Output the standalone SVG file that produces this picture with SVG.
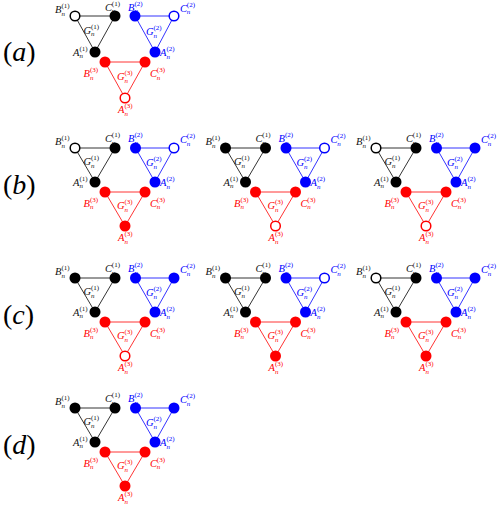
<svg xmlns="http://www.w3.org/2000/svg" width="498" height="505" viewBox="0 0 498 505">
<style>
.edges polygon{fill:none;stroke-width:0.8}
.ek{stroke:#000}.eb{stroke:#00f}.er{stroke:#f00}
.fk{fill:#000}.fb{fill:#00f}.fr{fill:#f00}
.ok{fill:#fff;stroke:#000;stroke-width:1.5}.ob{fill:#fff;stroke:#00f;stroke-width:1.5}.or{fill:#fff;stroke:#f00;stroke-width:1.5}
.t{font-family:"Liberation Serif","DejaVu Serif",serif;font-style:italic;font-size:10.5px}
.s{font-size:7px;font-style:normal}
.s2{font-size:7px}
.tk{fill:#111}.tb{fill:#00f}.tr{fill:#f00}
.pl{font-family:"Liberation Serif","DejaVu Serif",serif;font-size:28px;fill:#000}
.pl tspan{font-style:italic}
</style>
<g id="panel-labels">
<text class="pl" x="3" y="61">(<tspan>a</tspan>)</text>
<text class="pl" x="3" y="194">(<tspan>b</tspan>)</text>
<text class="pl" x="3" y="324">(<tspan>c</tspan>)</text>
<text class="pl" x="3" y="454">(<tspan>d</tspan>)</text>
</g>

<!-- (a) -->
<g id="da" transform="translate(75,16)">
<g id="da-edges" class="edges"><polygon class="ek" points="0,0 40,0 20,36"/><polygon class="eb" points="60,0 99,0 80,36"/><polygon class="er" points="30,46 70,46 50,82"/></g>
<g id="da-G1"><text class="t tk" x="8.5" y="17.5">G<tspan class="s2" x="16" dy="2.5">n</tspan><tspan class="s" x="16" dy="-7.5">(1)</tspan></text></g>
<g id="da-G2"><text class="t tb" x="71" y="19">G<tspan class="s2" x="78.5" dy="2.5">n</tspan><tspan class="s" x="78.5" dy="-7.5">(2)</tspan></text></g>
<g id="da-G3"><text class="t tr" x="42" y="64">G<tspan class="s2" x="49.5" dy="2.5">n</tspan><tspan class="s" x="49.5" dy="-7.5">(3)</tspan></text></g>
<g id="da-B1"><circle class="ok" cx="0" cy="0" r="4.8"/><text class="t tk" x="-20" y="-3">B<tspan class="s2" x="-13.6" dy="2.5">n</tspan><tspan class="s" x="-13.6" dy="-7.5">(1)</tspan></text></g>
<g id="da-C1"><circle class="fk" cx="40" cy="0" r="5.5"/><text class="t tk" x="30" y="-5.5">C<tspan class="s2" x="36.8" dy="2.5">n</tspan><tspan class="s" x="36.8" dy="-7.5">(1)</tspan></text></g>
<g id="da-A1"><circle class="fk" cx="20" cy="36" r="5.5"/><text class="t tk" x="-2" y="39.5">A<tspan class="s2" x="4.4" dy="2.5">n</tspan><tspan class="s" x="4.4" dy="-7.5">(1)</tspan></text></g>
<g id="da-B2"><circle class="fb" cx="60" cy="0" r="5.5"/><text class="t tb" x="53" y="-5.5">B<tspan class="s2" x="59.4" dy="2.5">n</tspan><tspan class="s" x="59.4" dy="-7.5">(2)</tspan></text></g>
<g id="da-C2"><circle class="ob" cx="99" cy="0" r="4.8"/><text class="t tb" x="105" y="-4.5">C<tspan class="s2" x="111.8" dy="2.5">n</tspan><tspan class="s" x="111.8" dy="-7.5">(2)</tspan></text></g>
<g id="da-A2"><circle class="fb" cx="80" cy="36" r="5.5"/><text class="t tb" x="85" y="40">A<tspan class="s2" x="91.4" dy="2.5">n</tspan><tspan class="s" x="91.4" dy="-7.5">(2)</tspan></text></g>
<g id="da-B3"><circle class="fr" cx="30" cy="46" r="5.5"/><text class="t tr" x="8.5" y="61">B<tspan class="s2" x="14.9" dy="2.5">n</tspan><tspan class="s" x="14.9" dy="-7.5">(3)</tspan></text></g>
<g id="da-C3"><circle class="fr" cx="70" cy="46" r="5.5"/><text class="t tr" x="75" y="61">C<tspan class="s2" x="81.8" dy="2.5">n</tspan><tspan class="s" x="81.8" dy="-7.5">(3)</tspan></text></g>
<g id="da-A3"><circle class="or" cx="50" cy="82" r="4.8"/><text class="t tr" x="43" y="97">A<tspan class="s2" x="49.4" dy="2.5">n</tspan><tspan class="s" x="49.4" dy="-7.5">(3)</tspan></text></g>
</g>

<!-- (b) 1 -->
<g id="db1" transform="translate(75,148)">
<g id="db1-edges" class="edges"><polygon class="ek" points="0,0 40,0 20,34"/><polygon class="eb" points="60.5,0 99,0 80,34"/><polygon class="er" points="30,44 70,44 50,78"/></g>
<g id="db1-G1"><text class="t tk" x="8.5" y="17">G<tspan class="s2" x="16" dy="2.5">n</tspan><tspan class="s" x="16" dy="-7.5">(1)</tspan></text></g>
<g id="db1-G2"><text class="t tb" x="71" y="18">G<tspan class="s2" x="78.5" dy="2.5">n</tspan><tspan class="s" x="78.5" dy="-7.5">(2)</tspan></text></g>
<g id="db1-G3"><text class="t tr" x="42" y="61">G<tspan class="s2" x="49.5" dy="2.5">n</tspan><tspan class="s" x="49.5" dy="-7.5">(3)</tspan></text></g>
<g id="db1-B1"><circle class="ok" cx="0" cy="0" r="4.8"/><text class="t tk" x="-20" y="-3">B<tspan class="s2" x="-13.6" dy="2.5">n</tspan><tspan class="s" x="-13.6" dy="-7.5">(1)</tspan></text></g>
<g id="db1-C1"><circle class="fk" cx="40" cy="0" r="5.5"/><text class="t tk" x="30" y="-6">C<tspan class="s2" x="36.8" dy="2.5">n</tspan><tspan class="s" x="36.8" dy="-7.5">(1)</tspan></text></g>
<g id="db1-A1"><circle class="fk" cx="20" cy="34" r="5.5"/><text class="t tk" x="-2" y="37.5">A<tspan class="s2" x="4.4" dy="2.5">n</tspan><tspan class="s" x="4.4" dy="-7.5">(1)</tspan></text></g>
<g id="db1-B2"><circle class="fb" cx="60.5" cy="0" r="5.5"/><text class="t tb" x="53" y="-6">B<tspan class="s2" x="59.4" dy="2.5">n</tspan><tspan class="s" x="59.4" dy="-7.5">(2)</tspan></text></g>
<g id="db1-C2"><circle class="ob" cx="99" cy="0" r="4.8"/><text class="t tb" x="105" y="-5">C<tspan class="s2" x="111.8" dy="2.5">n</tspan><tspan class="s" x="111.8" dy="-7.5">(2)</tspan></text></g>
<g id="db1-A2"><circle class="fb" cx="80" cy="34" r="5.5"/><text class="t tb" x="85" y="38">A<tspan class="s2" x="91.4" dy="2.5">n</tspan><tspan class="s" x="91.4" dy="-7.5">(2)</tspan></text></g>
<g id="db1-B3"><circle class="fr" cx="30" cy="44" r="5.5"/><text class="t tr" x="8.5" y="58.5">B<tspan class="s2" x="14.9" dy="2.5">n</tspan><tspan class="s" x="14.9" dy="-7.5">(3)</tspan></text></g>
<g id="db1-C3"><circle class="fr" cx="70" cy="44" r="5.5"/><text class="t tr" x="75" y="58.5">C<tspan class="s2" x="81.8" dy="2.5">n</tspan><tspan class="s" x="81.8" dy="-7.5">(3)</tspan></text></g>
<g id="db1-A3"><circle class="fr" cx="50" cy="78" r="5.5"/><text class="t tr" x="43" y="93">A<tspan class="s2" x="49.4" dy="2.5">n</tspan><tspan class="s" x="49.4" dy="-7.5">(3)</tspan></text></g>
</g>

<!-- (b) 2 -->
<g id="db2" transform="translate(225.5,148)">
<g id="db2-edges" class="edges"><polygon class="ek" points="0,0 40,0 20,34"/><polygon class="eb" points="60.5,0 99,0 80,34"/><polygon class="er" points="30,44 70,44 50,78"/></g>
<g id="db2-G1"><text class="t tk" x="8.5" y="17">G<tspan class="s2" x="16" dy="2.5">n</tspan><tspan class="s" x="16" dy="-7.5">(1)</tspan></text></g>
<g id="db2-G2"><text class="t tb" x="71" y="18">G<tspan class="s2" x="78.5" dy="2.5">n</tspan><tspan class="s" x="78.5" dy="-7.5">(2)</tspan></text></g>
<g id="db2-G3"><text class="t tr" x="42" y="61">G<tspan class="s2" x="49.5" dy="2.5">n</tspan><tspan class="s" x="49.5" dy="-7.5">(3)</tspan></text></g>
<g id="db2-B1"><circle class="fk" cx="0" cy="0" r="5.5"/><text class="t tk" x="-20" y="-3">B<tspan class="s2" x="-13.6" dy="2.5">n</tspan><tspan class="s" x="-13.6" dy="-7.5">(1)</tspan></text></g>
<g id="db2-C1"><circle class="fk" cx="40" cy="0" r="5.5"/><text class="t tk" x="30" y="-6">C<tspan class="s2" x="36.8" dy="2.5">n</tspan><tspan class="s" x="36.8" dy="-7.5">(1)</tspan></text></g>
<g id="db2-A1"><circle class="fk" cx="20" cy="34" r="5.5"/><text class="t tk" x="-2" y="37.5">A<tspan class="s2" x="4.4" dy="2.5">n</tspan><tspan class="s" x="4.4" dy="-7.5">(1)</tspan></text></g>
<g id="db2-B2"><circle class="fb" cx="60.5" cy="0" r="5.5"/><text class="t tb" x="53" y="-6">B<tspan class="s2" x="59.4" dy="2.5">n</tspan><tspan class="s" x="59.4" dy="-7.5">(2)</tspan></text></g>
<g id="db2-C2"><circle class="ob" cx="99" cy="0" r="4.8"/><text class="t tb" x="105" y="-5">C<tspan class="s2" x="111.8" dy="2.5">n</tspan><tspan class="s" x="111.8" dy="-7.5">(2)</tspan></text></g>
<g id="db2-A2"><circle class="fb" cx="80" cy="34" r="5.5"/><text class="t tb" x="85" y="38">A<tspan class="s2" x="91.4" dy="2.5">n</tspan><tspan class="s" x="91.4" dy="-7.5">(2)</tspan></text></g>
<g id="db2-B3"><circle class="fr" cx="30" cy="44" r="5.5"/><text class="t tr" x="8.5" y="58.5">B<tspan class="s2" x="14.9" dy="2.5">n</tspan><tspan class="s" x="14.9" dy="-7.5">(3)</tspan></text></g>
<g id="db2-C3"><circle class="fr" cx="70" cy="44" r="5.5"/><text class="t tr" x="75" y="58.5">C<tspan class="s2" x="81.8" dy="2.5">n</tspan><tspan class="s" x="81.8" dy="-7.5">(3)</tspan></text></g>
<g id="db2-A3"><circle class="or" cx="50" cy="78" r="4.8"/><text class="t tr" x="43" y="93">A<tspan class="s2" x="49.4" dy="2.5">n</tspan><tspan class="s" x="49.4" dy="-7.5">(3)</tspan></text></g>
</g>

<!-- (b) 3 -->
<g id="db3" transform="translate(376,148)">
<g id="db3-edges" class="edges"><polygon class="ek" points="0,0 40,0 20,34"/><polygon class="eb" points="60.5,0 99,0 80,34"/><polygon class="er" points="30,44 70,44 50,78"/></g>
<g id="db3-G1"><text class="t tk" x="8.5" y="17">G<tspan class="s2" x="16" dy="2.5">n</tspan><tspan class="s" x="16" dy="-7.5">(1)</tspan></text></g>
<g id="db3-G2"><text class="t tb" x="71" y="18">G<tspan class="s2" x="78.5" dy="2.5">n</tspan><tspan class="s" x="78.5" dy="-7.5">(2)</tspan></text></g>
<g id="db3-G3"><text class="t tr" x="42" y="61">G<tspan class="s2" x="49.5" dy="2.5">n</tspan><tspan class="s" x="49.5" dy="-7.5">(3)</tspan></text></g>
<g id="db3-B1"><circle class="ok" cx="0" cy="0" r="4.8"/><text class="t tk" x="-20" y="-3">B<tspan class="s2" x="-13.6" dy="2.5">n</tspan><tspan class="s" x="-13.6" dy="-7.5">(1)</tspan></text></g>
<g id="db3-C1"><circle class="fk" cx="40" cy="0" r="5.5"/><text class="t tk" x="30" y="-6">C<tspan class="s2" x="36.8" dy="2.5">n</tspan><tspan class="s" x="36.8" dy="-7.5">(1)</tspan></text></g>
<g id="db3-A1"><circle class="fk" cx="20" cy="34" r="5.5"/><text class="t tk" x="-2" y="37.5">A<tspan class="s2" x="4.4" dy="2.5">n</tspan><tspan class="s" x="4.4" dy="-7.5">(1)</tspan></text></g>
<g id="db3-B2"><circle class="fb" cx="60.5" cy="0" r="5.5"/><text class="t tb" x="53" y="-6">B<tspan class="s2" x="59.4" dy="2.5">n</tspan><tspan class="s" x="59.4" dy="-7.5">(2)</tspan></text></g>
<g id="db3-C2"><circle class="fb" cx="99" cy="0" r="5.5"/><text class="t tb" x="105" y="-5">C<tspan class="s2" x="111.8" dy="2.5">n</tspan><tspan class="s" x="111.8" dy="-7.5">(2)</tspan></text></g>
<g id="db3-A2"><circle class="fb" cx="80" cy="34" r="5.5"/><text class="t tb" x="85" y="38">A<tspan class="s2" x="91.4" dy="2.5">n</tspan><tspan class="s" x="91.4" dy="-7.5">(2)</tspan></text></g>
<g id="db3-B3"><circle class="fr" cx="30" cy="44" r="5.5"/><text class="t tr" x="8.5" y="58.5">B<tspan class="s2" x="14.9" dy="2.5">n</tspan><tspan class="s" x="14.9" dy="-7.5">(3)</tspan></text></g>
<g id="db3-C3"><circle class="fr" cx="70" cy="44" r="5.5"/><text class="t tr" x="75" y="58.5">C<tspan class="s2" x="81.8" dy="2.5">n</tspan><tspan class="s" x="81.8" dy="-7.5">(3)</tspan></text></g>
<g id="db3-A3"><circle class="or" cx="50" cy="78" r="4.8"/><text class="t tr" x="43" y="93">A<tspan class="s2" x="49.4" dy="2.5">n</tspan><tspan class="s" x="49.4" dy="-7.5">(3)</tspan></text></g>
</g>

<!-- (c) 1 -->
<g id="dc1" transform="translate(75,278)">
<g id="dc1-edges" class="edges"><polygon class="ek" points="0,0 40,0 20,34"/><polygon class="eb" points="60.5,0 99,0 80,34"/><polygon class="er" points="30,44 70,44 50,78"/></g>
<g id="dc1-G1"><text class="t tk" x="8.5" y="17">G<tspan class="s2" x="16" dy="2.5">n</tspan><tspan class="s" x="16" dy="-7.5">(1)</tspan></text></g>
<g id="dc1-G2"><text class="t tb" x="71" y="18">G<tspan class="s2" x="78.5" dy="2.5">n</tspan><tspan class="s" x="78.5" dy="-7.5">(2)</tspan></text></g>
<g id="dc1-G3"><text class="t tr" x="42" y="61">G<tspan class="s2" x="49.5" dy="2.5">n</tspan><tspan class="s" x="49.5" dy="-7.5">(3)</tspan></text></g>
<g id="dc1-B1"><circle class="fk" cx="0" cy="0" r="5.5"/><text class="t tk" x="-20" y="-3">B<tspan class="s2" x="-13.6" dy="2.5">n</tspan><tspan class="s" x="-13.6" dy="-7.5">(1)</tspan></text></g>
<g id="dc1-C1"><circle class="fk" cx="40" cy="0" r="5.5"/><text class="t tk" x="30" y="-6">C<tspan class="s2" x="36.8" dy="2.5">n</tspan><tspan class="s" x="36.8" dy="-7.5">(1)</tspan></text></g>
<g id="dc1-A1"><circle class="fk" cx="20" cy="34" r="5.5"/><text class="t tk" x="-2" y="37.5">A<tspan class="s2" x="4.4" dy="2.5">n</tspan><tspan class="s" x="4.4" dy="-7.5">(1)</tspan></text></g>
<g id="dc1-B2"><circle class="fb" cx="60.5" cy="0" r="5.5"/><text class="t tb" x="53" y="-6">B<tspan class="s2" x="59.4" dy="2.5">n</tspan><tspan class="s" x="59.4" dy="-7.5">(2)</tspan></text></g>
<g id="dc1-C2"><circle class="fb" cx="99" cy="0" r="5.5"/><text class="t tb" x="105" y="-5">C<tspan class="s2" x="111.8" dy="2.5">n</tspan><tspan class="s" x="111.8" dy="-7.5">(2)</tspan></text></g>
<g id="dc1-A2"><circle class="fb" cx="80" cy="34" r="5.5"/><text class="t tb" x="85" y="38">A<tspan class="s2" x="91.4" dy="2.5">n</tspan><tspan class="s" x="91.4" dy="-7.5">(2)</tspan></text></g>
<g id="dc1-B3"><circle class="fr" cx="30" cy="44" r="5.5"/><text class="t tr" x="8.5" y="58.5">B<tspan class="s2" x="14.9" dy="2.5">n</tspan><tspan class="s" x="14.9" dy="-7.5">(3)</tspan></text></g>
<g id="dc1-C3"><circle class="fr" cx="70" cy="44" r="5.5"/><text class="t tr" x="75" y="58.5">C<tspan class="s2" x="81.8" dy="2.5">n</tspan><tspan class="s" x="81.8" dy="-7.5">(3)</tspan></text></g>
<g id="dc1-A3"><circle class="or" cx="50" cy="78" r="4.8"/><text class="t tr" x="43" y="93">A<tspan class="s2" x="49.4" dy="2.5">n</tspan><tspan class="s" x="49.4" dy="-7.5">(3)</tspan></text></g>
</g>

<!-- (c) 2 -->
<g id="dc2" transform="translate(225.5,278)">
<g id="dc2-edges" class="edges"><polygon class="ek" points="0,0 40,0 20,34"/><polygon class="eb" points="60.5,0 99,0 80,34"/><polygon class="er" points="30,44 70,44 50,78"/></g>
<g id="dc2-G1"><text class="t tk" x="8.5" y="17">G<tspan class="s2" x="16" dy="2.5">n</tspan><tspan class="s" x="16" dy="-7.5">(1)</tspan></text></g>
<g id="dc2-G2"><text class="t tb" x="71" y="18">G<tspan class="s2" x="78.5" dy="2.5">n</tspan><tspan class="s" x="78.5" dy="-7.5">(2)</tspan></text></g>
<g id="dc2-G3"><text class="t tr" x="42" y="61">G<tspan class="s2" x="49.5" dy="2.5">n</tspan><tspan class="s" x="49.5" dy="-7.5">(3)</tspan></text></g>
<g id="dc2-B1"><circle class="fk" cx="0" cy="0" r="5.5"/><text class="t tk" x="-20" y="-3">B<tspan class="s2" x="-13.6" dy="2.5">n</tspan><tspan class="s" x="-13.6" dy="-7.5">(1)</tspan></text></g>
<g id="dc2-C1"><circle class="fk" cx="40" cy="0" r="5.5"/><text class="t tk" x="30" y="-6">C<tspan class="s2" x="36.8" dy="2.5">n</tspan><tspan class="s" x="36.8" dy="-7.5">(1)</tspan></text></g>
<g id="dc2-A1"><circle class="fk" cx="20" cy="34" r="5.5"/><text class="t tk" x="-2" y="37.5">A<tspan class="s2" x="4.4" dy="2.5">n</tspan><tspan class="s" x="4.4" dy="-7.5">(1)</tspan></text></g>
<g id="dc2-B2"><circle class="fb" cx="60.5" cy="0" r="5.5"/><text class="t tb" x="53" y="-6">B<tspan class="s2" x="59.4" dy="2.5">n</tspan><tspan class="s" x="59.4" dy="-7.5">(2)</tspan></text></g>
<g id="dc2-C2"><circle class="ob" cx="99" cy="0" r="4.8"/><text class="t tb" x="105" y="-5">C<tspan class="s2" x="111.8" dy="2.5">n</tspan><tspan class="s" x="111.8" dy="-7.5">(2)</tspan></text></g>
<g id="dc2-A2"><circle class="fb" cx="80" cy="34" r="5.5"/><text class="t tb" x="85" y="38">A<tspan class="s2" x="91.4" dy="2.5">n</tspan><tspan class="s" x="91.4" dy="-7.5">(2)</tspan></text></g>
<g id="dc2-B3"><circle class="fr" cx="30" cy="44" r="5.5"/><text class="t tr" x="8.5" y="58.5">B<tspan class="s2" x="14.9" dy="2.5">n</tspan><tspan class="s" x="14.9" dy="-7.5">(3)</tspan></text></g>
<g id="dc2-C3"><circle class="fr" cx="70" cy="44" r="5.5"/><text class="t tr" x="75" y="58.5">C<tspan class="s2" x="81.8" dy="2.5">n</tspan><tspan class="s" x="81.8" dy="-7.5">(3)</tspan></text></g>
<g id="dc2-A3"><circle class="fr" cx="50" cy="78" r="5.5"/><text class="t tr" x="43" y="93">A<tspan class="s2" x="49.4" dy="2.5">n</tspan><tspan class="s" x="49.4" dy="-7.5">(3)</tspan></text></g>
</g>

<!-- (c) 3 -->
<g id="dc3" transform="translate(376,278)">
<g id="dc3-edges" class="edges"><polygon class="ek" points="0,0 40,0 20,34"/><polygon class="eb" points="60.5,0 99,0 80,34"/><polygon class="er" points="30,44 70,44 50,78"/></g>
<g id="dc3-G1"><text class="t tk" x="8.5" y="17">G<tspan class="s2" x="16" dy="2.5">n</tspan><tspan class="s" x="16" dy="-7.5">(1)</tspan></text></g>
<g id="dc3-G2"><text class="t tb" x="71" y="18">G<tspan class="s2" x="78.5" dy="2.5">n</tspan><tspan class="s" x="78.5" dy="-7.5">(2)</tspan></text></g>
<g id="dc3-G3"><text class="t tr" x="42" y="61">G<tspan class="s2" x="49.5" dy="2.5">n</tspan><tspan class="s" x="49.5" dy="-7.5">(3)</tspan></text></g>
<g id="dc3-B1"><circle class="ok" cx="0" cy="0" r="4.8"/><text class="t tk" x="-20" y="-3">B<tspan class="s2" x="-13.6" dy="2.5">n</tspan><tspan class="s" x="-13.6" dy="-7.5">(1)</tspan></text></g>
<g id="dc3-C1"><circle class="fk" cx="40" cy="0" r="5.5"/><text class="t tk" x="30" y="-6">C<tspan class="s2" x="36.8" dy="2.5">n</tspan><tspan class="s" x="36.8" dy="-7.5">(1)</tspan></text></g>
<g id="dc3-A1"><circle class="fk" cx="20" cy="34" r="5.5"/><text class="t tk" x="-2" y="37.5">A<tspan class="s2" x="4.4" dy="2.5">n</tspan><tspan class="s" x="4.4" dy="-7.5">(1)</tspan></text></g>
<g id="dc3-B2"><circle class="fb" cx="60.5" cy="0" r="5.5"/><text class="t tb" x="53" y="-6">B<tspan class="s2" x="59.4" dy="2.5">n</tspan><tspan class="s" x="59.4" dy="-7.5">(2)</tspan></text></g>
<g id="dc3-C2"><circle class="fb" cx="99" cy="0" r="5.5"/><text class="t tb" x="105" y="-5">C<tspan class="s2" x="111.8" dy="2.5">n</tspan><tspan class="s" x="111.8" dy="-7.5">(2)</tspan></text></g>
<g id="dc3-A2"><circle class="fb" cx="80" cy="34" r="5.5"/><text class="t tb" x="85" y="38">A<tspan class="s2" x="91.4" dy="2.5">n</tspan><tspan class="s" x="91.4" dy="-7.5">(2)</tspan></text></g>
<g id="dc3-B3"><circle class="fr" cx="30" cy="44" r="5.5"/><text class="t tr" x="8.5" y="58.5">B<tspan class="s2" x="14.9" dy="2.5">n</tspan><tspan class="s" x="14.9" dy="-7.5">(3)</tspan></text></g>
<g id="dc3-C3"><circle class="fr" cx="70" cy="44" r="5.5"/><text class="t tr" x="75" y="58.5">C<tspan class="s2" x="81.8" dy="2.5">n</tspan><tspan class="s" x="81.8" dy="-7.5">(3)</tspan></text></g>
<g id="dc3-A3"><circle class="fr" cx="50" cy="78" r="5.5"/><text class="t tr" x="43" y="93">A<tspan class="s2" x="49.4" dy="2.5">n</tspan><tspan class="s" x="49.4" dy="-7.5">(3)</tspan></text></g>
</g>

<!-- (d) -->
<g id="dd" transform="translate(75,408)">
<g id="dd-edges" class="edges"><polygon class="ek" points="0,0 40,0 20,34"/><polygon class="eb" points="60.5,0 99,0 80,34"/><polygon class="er" points="30,44 70,44 50,78"/></g>
<g id="dd-G1"><text class="t tk" x="8.5" y="17">G<tspan class="s2" x="16" dy="2.5">n</tspan><tspan class="s" x="16" dy="-7.5">(1)</tspan></text></g>
<g id="dd-G2"><text class="t tb" x="71" y="18">G<tspan class="s2" x="78.5" dy="2.5">n</tspan><tspan class="s" x="78.5" dy="-7.5">(2)</tspan></text></g>
<g id="dd-G3"><text class="t tr" x="42" y="61">G<tspan class="s2" x="49.5" dy="2.5">n</tspan><tspan class="s" x="49.5" dy="-7.5">(3)</tspan></text></g>
<g id="dd-B1"><circle class="fk" cx="0" cy="0" r="5.5"/><text class="t tk" x="-20" y="-3">B<tspan class="s2" x="-13.6" dy="2.5">n</tspan><tspan class="s" x="-13.6" dy="-7.5">(1)</tspan></text></g>
<g id="dd-C1"><circle class="fk" cx="40" cy="0" r="5.5"/><text class="t tk" x="30" y="-6">C<tspan class="s2" x="36.8" dy="2.5">n</tspan><tspan class="s" x="36.8" dy="-7.5">(1)</tspan></text></g>
<g id="dd-A1"><circle class="fk" cx="20" cy="34" r="5.5"/><text class="t tk" x="-2" y="37.5">A<tspan class="s2" x="4.4" dy="2.5">n</tspan><tspan class="s" x="4.4" dy="-7.5">(1)</tspan></text></g>
<g id="dd-B2"><circle class="fb" cx="60.5" cy="0" r="5.5"/><text class="t tb" x="53" y="-6">B<tspan class="s2" x="59.4" dy="2.5">n</tspan><tspan class="s" x="59.4" dy="-7.5">(2)</tspan></text></g>
<g id="dd-C2"><circle class="fb" cx="99" cy="0" r="5.5"/><text class="t tb" x="105" y="-5">C<tspan class="s2" x="111.8" dy="2.5">n</tspan><tspan class="s" x="111.8" dy="-7.5">(2)</tspan></text></g>
<g id="dd-A2"><circle class="fb" cx="80" cy="34" r="5.5"/><text class="t tb" x="85" y="38">A<tspan class="s2" x="91.4" dy="2.5">n</tspan><tspan class="s" x="91.4" dy="-7.5">(2)</tspan></text></g>
<g id="dd-B3"><circle class="fr" cx="30" cy="44" r="5.5"/><text class="t tr" x="8.5" y="58.5">B<tspan class="s2" x="14.9" dy="2.5">n</tspan><tspan class="s" x="14.9" dy="-7.5">(3)</tspan></text></g>
<g id="dd-C3"><circle class="fr" cx="70" cy="44" r="5.5"/><text class="t tr" x="75" y="58.5">C<tspan class="s2" x="81.8" dy="2.5">n</tspan><tspan class="s" x="81.8" dy="-7.5">(3)</tspan></text></g>
<g id="dd-A3"><circle class="fr" cx="50" cy="78" r="5.5"/><text class="t tr" x="43" y="93">A<tspan class="s2" x="49.4" dy="2.5">n</tspan><tspan class="s" x="49.4" dy="-7.5">(3)</tspan></text></g>
</g>
</svg>
